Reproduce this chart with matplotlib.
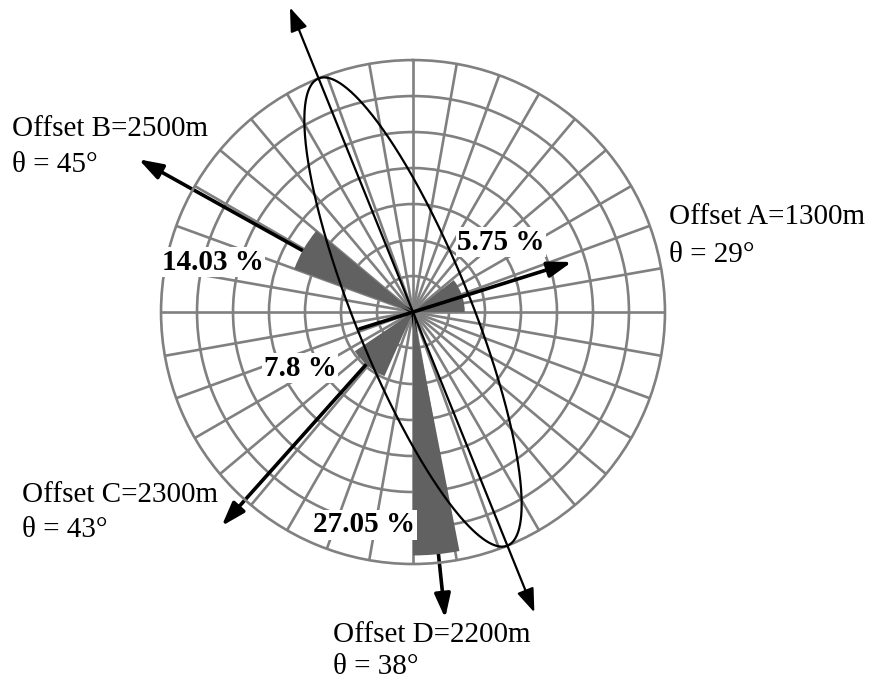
import numpy as np
import matplotlib
matplotlib.use("Agg")
import matplotlib.pyplot as plt

plt.rcParams['font.family'] = ['Liberation Serif', 'DejaVu Serif']

# rose bars: azimuth of bar centre (deg, clockwise from north), angular width, percentage
bar_dir = [71, 300, 220, 174.5]
bar_width = [38, 20, 32, 11]
bar_pct = [5.75, 14.03, 7.8, 27.05]
bar_text = ["5.75 %", "14.03 %", "7.8 %", "27.05 %"]

# offset arrows drawn from the centre: azimuth, length (same units as the radial axis)
offset_names = ["Offset A=1300m", "Offset B=2500m", "Offset C=2300m", "Offset D=2200m"]
offset_theta = ["θ = 29°", "θ = 45°", "θ = 43°", "θ = 38°"]
offset_dir = [72.5, 299.1, 221.8, 174.0]
offset_len = [18.5, 34.9, 31.9, 34.2]
offset_A_tail = 6.2   # arrow A starts on the far side of the ellipse

# fracture ellipse and its long axis
ell_dir = 338.0
ell_a = 28.0
ell_b = 6.45
axis_len = [36.5, 36.0]

rmax = 28
rings = [4, 8, 12, 16, 20, 24]
grid_col = '#808080'
bar_col = '#616161'

fig = plt.figure(figsize=(8.75, 6.81), dpi=100)
ax = fig.add_axes([0.184, 0.1718, 0.576, 0.740], projection='polar')
ax.set_theta_zero_location('N')
ax.set_theta_direction(-1)
ax.set_ylim(0, rmax)
ax.set_axisbelow(True)
ax.set_rgrids(rings, labels=[''] * len(rings))
ax.set_thetagrids(np.arange(0, 360, 10), labels=[''] * 36)
ax.tick_params(pad=0, length=0)
ax.grid(True, color=grid_col, lw=1.9)
ax.spines['polar'].set_color(grid_col)
ax.spines['polar'].set_linewidth(1.9)
ax.patch.set_alpha(0)

# bars
ax.bar(np.radians(bar_dir), bar_pct, width=np.radians(bar_width),
       color=bar_col, edgecolor='none', zorder=3)

head = dict(arrowstyle='-|>,head_length=0.6,head_width=0.2', mutation_scale=24,
            color='k', lw=2.6, shrinkA=0, shrinkB=0)

# offset arrows B, C, D sit under the bars, A on top
for i in range(4):
    if i == 0:
        tail = (np.radians(offset_dir[0] + 180), offset_A_tail)
        z = 4
    else:
        tail = (0, 0)
        z = 2
    ax.annotate('', xy=(np.radians(offset_dir[i]), offset_len[i]), xytext=tail,
                arrowprops=head, annotation_clip=False, zorder=z)

# ellipse
t = np.linspace(0, 2 * np.pi, 721)
ux, uy = np.sin(np.radians(ell_dir)), np.cos(np.radians(ell_dir))
vx, vy = uy, -ux
ex = ell_a * np.cos(t) * ux + ell_b * np.sin(t) * vx
ey = ell_a * np.cos(t) * uy + ell_b * np.sin(t) * vy
ax.plot(np.arctan2(ex, ey), np.hypot(ex, ey), color='k', lw=1.6, zorder=5, clip_on=False)

# long axis, double headed
ax.annotate('', xy=(np.radians(ell_dir), axis_len[0]),
            xytext=(np.radians(ell_dir - 180), axis_len[1]),
            arrowprops=dict(arrowstyle='<|-|>,head_length=0.6,head_width=0.22',
                            mutation_scale=24, color='k', lw=1.6, shrinkA=0, shrinkB=0),
            annotation_clip=False, zorder=5)

# percentage labels
pct_pos = [(501, 242), (213, 262), (300, 368), (364, 525)]
for txt, (px, py) in zip(bar_text, pct_pos):
    fig.text(px / 875, 1 - py / 681, txt, ha='center', va='center', fontsize=21,
             fontweight='bold', zorder=6,
             bbox=dict(facecolor='white', edgecolor='none', pad=1.0))

# offset labels: left edge, first baseline, line gap (pixels)
name_pos = [(669, 224, 38), (12, 136, 36), (22, 502, 35), (333, 642, 32)]
for nm, th, (px, py, gap) in zip(offset_names, offset_theta, name_pos):
    fig.text(px / 875, 1 - py / 681, nm, ha='left', va='baseline', fontsize=21)
    fig.text(px / 875, 1 - (py + gap) / 681, th, ha='left', va='baseline', fontsize=21)

fig.savefig('out.png', dpi=100)
